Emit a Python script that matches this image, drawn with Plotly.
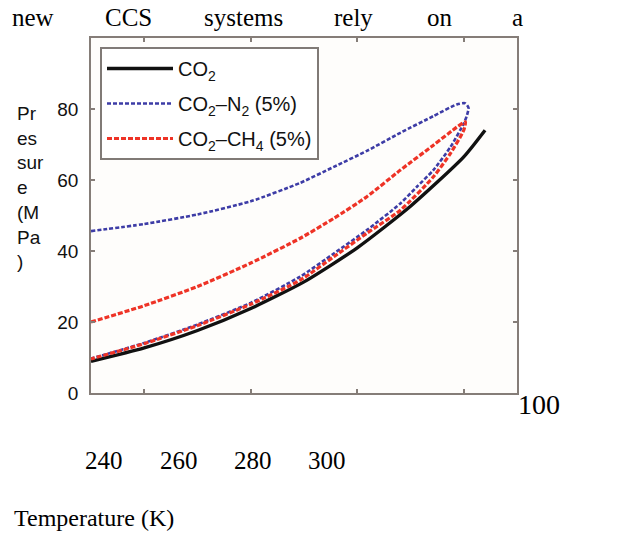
import plotly.graph_objects as go

# ---------------- data ----------------
T_co2 = [230, 240, 250, 260, 270, 280, 290, 300, 304.0]
P_co2 = [8.9, 12.7, 17.6, 23.8, 31.3, 40.9, 52.6, 66.5, 74.0]

T_n2 = [230, 240, 250, 260, 269.3, 275.6, 281.8, 288.1, 294.3, 298.7, 300.3, 300.9, 300.6,
        300.0, 297.5, 294.3, 291.2, 288.1, 281.8, 275.6, 269.3, 260, 250, 240, 230]
P_n2 = [45.6, 47.6, 50.3, 54.0, 59.2, 63.7, 68.2, 73.3, 78.0, 81.3, 81.6, 80.3, 78.2,
        75.9, 69.3, 62.8, 58.1, 53.4, 45.9, 39.3, 32.8, 25.4, 19.3, 14.1, 9.7]

T_ch4 = [230, 240, 250, 260, 269.3, 275.6, 281.8, 288.1, 294.3, 298.7, 300.3,
         300.0, 297.5, 294.3, 288.1, 281.8, 275.6, 269.3, 260, 250, 240, 230]
P_ch4 = [20.0, 24.6, 30.0, 36.6, 43.6, 49.2, 55.3, 62.8, 69.8, 74.9, 76.4,
         74.0, 67.5, 60.9, 51.5, 45.0, 38.4, 31.8, 25.0, 19.0, 13.9, 9.6]

series_names = ["CO<sub>2</sub>", "CO<sub>2</sub>–N<sub>2</sub> (5%)", "CO<sub>2</sub>–CH<sub>4</sub> (5%)"]
x_ticks = [240, 260, 280, 300]
x_tick_labels = ["240", "260", "280", "300"]
y_ticks = [0, 20, 40, 60, 80]
y_tick_labels = ["0", "20", "40", "60", "80"]
y_title_lines = ["Pr", "es", "sur", "e", "(M", "Pa", ")"]
top_words = ["new", "CCS", "systems", "rely", "on", "a"]

# ---------------- layout helpers ----------------
W, H = 635, 537
L, R, T, B = 91, 118, 38, 144


def px(x):
    return (x - L) / (W - L - R)


def py(y):
    return (H - B - y) / (H - T - B)


AX = "#857d78"
SANS = "Liberation Sans, Arial, sans-serif"
SERIF = "Liberation Serif, Times New Roman, serif"

fig = go.Figure()
fig.add_trace(go.Scatter(x=T_co2, y=P_co2, mode="lines", name=series_names[0],
                         legendgroup="a", line=dict(color="#111111", width=3.4, shape="spline", smoothing=0.6)))
fig.add_trace(go.Scatter(x=T_n2, y=P_n2, mode="lines", name=series_names[1],
                         legendgroup="b", line=dict(color="#3d3ca6", width=2.6, dash="4px,2px",
                                                     shape="spline", smoothing=0.6)))
fig.add_trace(go.Scatter(x=T_ch4, y=P_ch4, mode="lines", name=series_names[2],
                         legendgroup="c", line=dict(color="#ee3326", width=3.2, dash="5px,2px",
                                                     shape="spline", smoothing=0.6)))

ann = []
# y-axis title, wrapped
ann.append(dict(text="<br>".join(y_title_lines), xref="paper", yref="paper", x=px(15), y=py(187),
                xanchor="left", yanchor="middle", align="left", showarrow=False,
                font=dict(family=SANS, size=19, color="#111111")))
# displaced x tick labels (serif, as in the document)
for lab, cx in zip(x_tick_labels, [104, 179, 253, 327]):
    ann.append(dict(text=lab, xref="paper", yref="paper", x=px(cx), y=py(460),
                    xanchor="center", yanchor="middle", showarrow=False,
                    font=dict(family=SERIF, size=25, color="#000000")))
ann.append(dict(text="100", xref="paper", yref="paper", x=px(516), y=py(404),
                xanchor="left", yanchor="middle", showarrow=False,
                font=dict(family=SERIF, size=28, color="#000000")))
ann.append(dict(text="Temperature (K)", xref="paper", yref="paper", x=px(12), y=py(518),
                xanchor="left", yanchor="middle", showarrow=False,
                font=dict(family=SERIF, size=24, color="#000000")))
for w, cx in zip(top_words, [33, 128, 243, 353, 440, 517]):
    ann.append(dict(text=w, xref="paper", yref="paper", x=px(cx), y=py(17),
                    xanchor="center", yanchor="middle", showarrow=False,
                    font=dict(family=SERIF, size=25, color="#000000")))

fig.update_layout(
    width=W, height=H, margin=dict(l=L, r=R, t=T, b=B, pad=0),
    paper_bgcolor="white", plot_bgcolor="#fefdfb",
    showlegend=True,
    legend=dict(x=px(100), y=py(47), xanchor="left", yanchor="top",
                bgcolor="white", bordercolor="#807a76", borderwidth=2,
                font=dict(family=SANS, size=20, color="#111111"),
                itemwidth=66,
                tracegroupgap=6, entrywidth=210, entrywidthmode="pixels"),
    annotations=ann,
    xaxis=dict(range=[230, 310], tickvals=x_ticks, ticktext=["" for _ in x_ticks],
               ticks="inside", ticklen=4, tickwidth=1.5, tickcolor=AX,
               showline=True, linecolor=AX, linewidth=1.6, mirror="ticks",
               showgrid=False, zeroline=False),
    yaxis=dict(range=[0, 100], tickvals=y_ticks, ticktext=y_tick_labels,
               ticks="inside", ticklen=4, tickwidth=1.5, tickcolor=AX,
               showline=True, linecolor=AX, linewidth=1.6, mirror="ticks",
               showgrid=False, zeroline=False, ticklabelstandoff=7,
               tickfont=dict(family=SANS, size=19, color="#111111")),
)

fig.write_html("out.html", config={"displayModeBar": False},
               post_script="document.body.style.margin='0';document.body.style.padding='0';")
